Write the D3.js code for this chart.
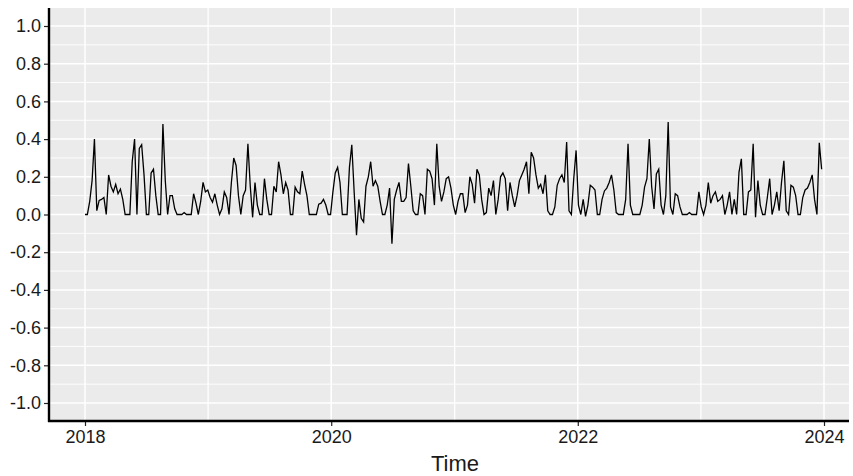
<!DOCTYPE html>
<html>
<head>
<meta charset="utf-8">
<script src="https://cdn.jsdelivr.net/npm/d3@7"></script>
<style>
  body { margin: 0; background: #ffffff; }
  svg { display: block; font-family: "Liberation Sans", Arial, sans-serif; }
</style>
</head>
<body>
<svg id="chart" width="853" height="476"></svg>
<script>
// weekly values, first week starts 2018-01-01
const startDate = new Date(2018, 0, 1);
const values2018 = [0, 0, 0.07, 0.18, 0.40, 0.02, 0.075, 0.08, 0.09, 0, 0.21, 0.15, 0.12, 0.16, 0.11, 0.135, 0.08, 0, 0, 0, 0.28, 0.40, 0, 0.35, 0.37, 0.21, 0, 0, 0.22, 0.24, 0.10, 0, 0, 0.48, 0.18, 0, 0.10, 0.10, 0.03, 0, 0, 0, 0.01, 0, 0, 0, 0.11, 0.06, 0, 0.07, 0.17, 0.12];
const values2019 = [0.13, 0.09, 0.065, 0.11, 0.05, 0, 0.03, 0.12, 0.09, 0, 0.17, 0.30, 0.26, 0.10, 0, 0.10, 0.13, 0.375, 0.15, -0.015, 0.17, 0.05, 0, 0, 0.19, 0.08, 0, 0, 0.15, 0.12, 0.28, 0.21, 0.11, 0.17, 0.13, 0, 0, 0.145, 0.12, 0.11, 0.23, 0.16, 0.10, 0, 0, 0, 0, 0.055, 0.06, 0.08, 0.05, 0];
const values2020 = [0, 0.12, 0.22, 0.25, 0.17, 0, 0, 0, 0.25, 0.37, 0.12, -0.11, 0.08, -0.02, -0.04, 0.15, 0.20, 0.28, 0.15, 0.18, 0.15, 0.07, 0, 0, 0.05, 0.14, -0.155, 0.08, 0.13, 0.17, 0.07, 0.07, 0.09, 0.27, 0.15, 0.02, 0, 0, 0.11, 0.10, 0, 0.24, 0.23, 0.19, 0.05, 0.375, 0.15, 0.07, 0.12, 0.19, 0.20, 0.14];
const values2021 = [0.05, 0, 0.07, 0.11, 0.11, 0.01, 0.05, 0.20, 0.16, 0.06, 0.24, 0.21, 0.08, 0, 0.01, 0.14, 0.10, 0.18, 0, 0.08, 0.20, 0.22, 0.19, 0.02, 0.17, 0.10, 0.04, 0.10, 0.18, 0.21, 0.24, 0.28, 0.11, 0.33, 0.30, 0.21, 0.14, 0.16, 0.11, 0.21, 0.02, 0, 0, 0.04, 0.155, 0.19, 0.21, 0.17, 0.385, 0.02, 0, 0.19];
const values2022 = [0.34, 0.05, 0, 0.08, -0.01, 0.05, 0.155, 0.145, 0.13, 0, 0, 0.08, 0.125, 0.14, 0.17, 0.21, 0.13, 0.01, 0, 0, 0, 0.08, 0.375, 0.05, 0, 0, 0, 0, 0.05, 0.145, 0.19, 0.40, 0.15, 0.03, 0.215, 0.24, 0.05, 0, 0.10, 0.49, 0.04, 0, 0.11, 0.10, 0.04, 0, 0, 0, 0.01, 0, 0, 0];
const values2023 = [0.12, 0.04, 0, 0.05, 0.17, 0.06, 0.10, 0.12, 0.07, 0.08, 0.10, 0, 0.05, 0.12, 0, 0.08, 0, 0.225, 0.295, 0, 0, 0.12, 0.13, 0.375, -0.015, 0.18, 0.05, 0, 0, 0.09, 0.19, 0, 0.05, 0.12, 0.02, 0.17, 0.285, 0.02, 0, 0.155, 0.145, 0.10, 0, 0, 0.09, 0.13, 0.14, 0.17, 0.21, 0.08, 0, 0.38, 0.24];

const yTicks = [-1.0, -0.8, -0.6, -0.4, -0.2, 0.0, 0.2, 0.4, 0.6, 0.8, 1.0];
const yMinor = [-0.9, -0.7, -0.5, -0.3, -0.1, 0.1, 0.3, 0.5, 0.7, 0.9];
const xTickYears = [2018, 2020, 2022, 2024];
const xMinorYears = [2019, 2021, 2023];
const xTitle = "Time";

const allValues = [].concat(values2018, values2019, values2020, values2021, values2022, values2023);
const data = allValues.map((v, i) => ({ date: d3.timeWeek.offset(startDate, i), value: v }));

const panel = { left: 49, right: 849, top: 8, bottom: 421 };

const svg = d3.select("#chart");

const xScale = d3.scaleTime()
  .domain([new Date(2018, 0, 1), new Date(2024, 0, 1)])
  .range([85, 824]);

const yScale = d3.scaleLinear()
  .domain([-1, 1])
  .range([403, 26]);

// panel background
svg.append("rect")
  .attr("x", panel.left)
  .attr("y", panel.top)
  .attr("width", panel.right - panel.left)
  .attr("height", panel.bottom - panel.top)
  .attr("fill", "#ebebeb");

const grid = svg.append("g").attr("class", "grid");

grid.selectAll(".y-minor")
  .data(yMinor)
  .join("line")
  .attr("x1", panel.left).attr("x2", panel.right)
  .attr("y1", (d) => yScale(d)).attr("y2", (d) => yScale(d))
  .attr("stroke", "#ffffff").attr("stroke-width", 0.9);

grid.selectAll(".y-major")
  .data(yTicks)
  .join("line")
  .attr("x1", panel.left).attr("x2", panel.right)
  .attr("y1", (d) => yScale(d)).attr("y2", (d) => yScale(d))
  .attr("stroke", "#ffffff").attr("stroke-width", 1.5);

grid.selectAll(".x-minor")
  .data(xMinorYears)
  .join("line")
  .attr("x1", (d) => xScale(new Date(d, 0, 1))).attr("x2", (d) => xScale(new Date(d, 0, 1)))
  .attr("y1", panel.top).attr("y2", panel.bottom)
  .attr("stroke", "#ffffff").attr("stroke-width", 1.3);

grid.selectAll(".x-major")
  .data(xTickYears)
  .join("line")
  .attr("x1", (d) => xScale(new Date(d, 0, 1))).attr("x2", (d) => xScale(new Date(d, 0, 1)))
  .attr("y1", panel.top).attr("y2", panel.bottom)
  .attr("stroke", "#ffffff").attr("stroke-width", 1.5);

// the series
const lineGen = d3.line()
  .x((d) => xScale(d.date))
  .y((d) => yScale(d.value));

svg.append("path")
  .datum(data)
  .attr("d", lineGen)
  .attr("fill", "none")
  .attr("stroke", "#000000")
  .attr("stroke-width", 1.3)
  .attr("stroke-linejoin", "miter");

// y axis
const yAxis = d3.axisLeft(yScale)
  .tickValues(yTicks)
  .tickFormat(d3.format(".1f"))
  .tickSize(5)
  .tickPadding(3);

const yAxisG = svg.append("g")
  .attr("transform", `translate(${panel.left},0)`)
  .call(yAxis);
yAxisG.select(".domain").remove();
yAxisG.selectAll(".tick line").attr("stroke", "#222").attr("stroke-width", 1.2);
yAxisG.selectAll(".tick text")
  .attr("fill", "#1a1a1a")
  .style("font-size", "18px")
  .text((d) => d3.format(".1f")(d).replace("−", "-"));

// x axis
const xAxis = d3.axisBottom(xScale)
  .tickValues(xTickYears.map((y) => new Date(y, 0, 1)))
  .tickFormat(d3.timeFormat("%Y"))
  .tickSize(5)
  .tickPadding(4);

const xAxisG = svg.append("g")
  .attr("transform", `translate(0,${panel.bottom})`)
  .call(xAxis);
xAxisG.select(".domain").remove();
xAxisG.selectAll(".tick line").attr("stroke", "#222").attr("stroke-width", 1.2);
xAxisG.selectAll(".tick text")
  .attr("fill", "#1a1a1a")
  .style("font-size", "18px");

// axis lines
svg.append("line")
  .attr("x1", panel.left).attr("x2", panel.left)
  .attr("y1", panel.top).attr("y2", panel.bottom + 1)
  .attr("stroke", "#000").attr("stroke-width", 2.4);
svg.append("line")
  .attr("x1", panel.left - 1).attr("x2", panel.right)
  .attr("y1", panel.bottom).attr("y2", panel.bottom)
  .attr("stroke", "#000").attr("stroke-width", 2.4);

// axis title
svg.append("text")
  .attr("x", (panel.left + panel.right) / 2 + 6)
  .attr("y", 471)
  .attr("text-anchor", "middle")
  .attr("fill", "#1a1a1a")
  .style("font-size", "22px")
  .text(xTitle);
</script>
</body>
</html>
